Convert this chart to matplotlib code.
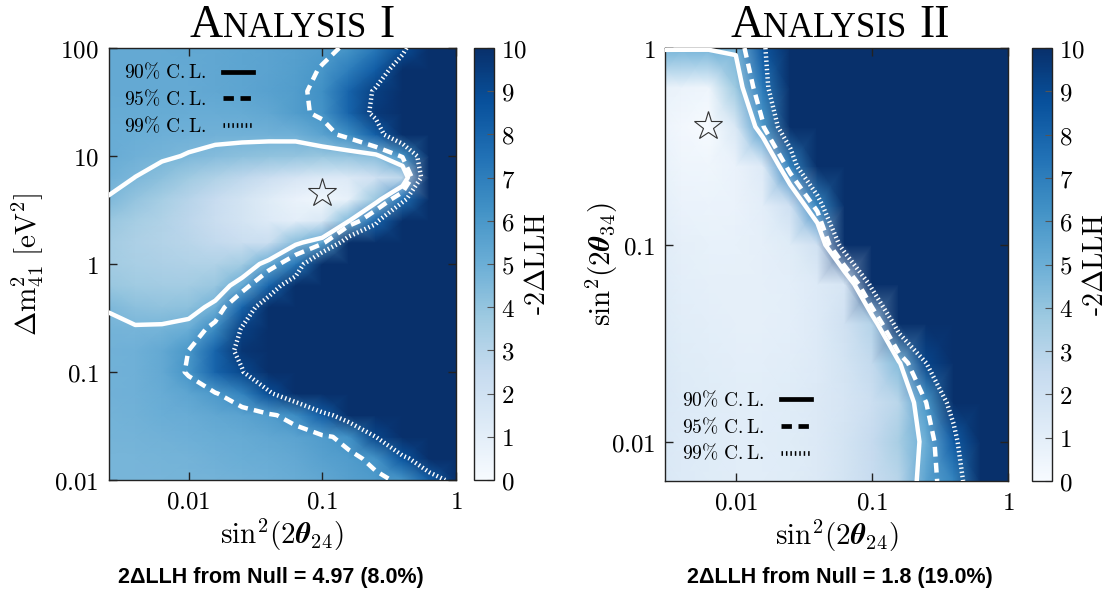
import numpy as np
import matplotlib
matplotlib.use("Agg")
import matplotlib.pyplot as plt
from matplotlib.lines import Line2D
from matplotlib.ticker import FixedLocator, FixedFormatter, NullLocator
import contourpy

plt.rcParams["mathtext.fontset"] = "cm"
plt.rcParams["axes.linewidth"] = 1.0

# ---------------------------------------------------------------- scan grid
sin2_2th24 = [0.00251, 0.00398, 0.00631, 0.01, 0.0158, 0.0251, 0.0398,
              0.0631, 0.1, 0.158, 0.251, 0.398, 0.631, 1.0]
dm2_41 = [100, 63.1, 39.8, 25.1, 15.8, 10, 6.31, 3.98, 2.51, 1.58, 1.0,
          0.631, 0.398, 0.251, 0.158, 0.1, 0.0631, 0.0398, 0.0251, 0.0158, 0.01]
sin2_2th34 = [1.0, 0.631, 0.398, 0.251, 0.158, 0.1, 0.0631, 0.0398, 0.0251,
              0.0158, 0.01, 0.00631]

# -2 Delta LLH, rows follow dm2_41 (top to bottom), columns follow sin2_2th24
llh_analysis1 = [
    [5.2, 5.2, 5.2, 5.3, 5.3, 5.4, 5.5, 5.6, 5.8, 6.1, 7.2, 8.8, 11.5, 15.0],
    [5.2, 5.2, 5.2, 5.2, 5.3, 5.4, 5.5, 5.7, 6.05, 7.0, 8.3, 10.1, 13.5, 17.0],
    [5.2, 5.2, 5.2, 5.2, 5.3, 5.4, 5.55, 5.75, 6.3, 8.0, 9.4, 12.5, 16.0, 19.0],
    [5.15, 5.15, 5.15, 5.1, 5.1, 5.15, 5.3, 5.75, 6.2, 8.0, 9.6, 12.5, 16.0, 19.0],
    [5.1, 5.0, 4.95, 4.9, 4.85, 4.85, 4.85, 4.9, 5.5, 6.4, 8.2, 11.5, 15.0, 18.0],
    [5.1, 4.9, 4.75, 4.55, 4.35, 4.2, 4.1, 4.0, 3.9, 4.0, 4.33, 6.17, 11.7, 16.0],
    [4.9, 4.6, 4.2, 3.7, 3.2, 2.7, 2.2, 1.7, 1.3, 1.4, 2.0, 2.77, 12.0, 16.0],
    [4.55, 4.0, 3.5, 3.0, 2.4, 1.8, 1.2, 0.7, 0.4, 0.8, 3.9, 7.5, 19.0, 20.0],
    [3.9, 3.5, 3.2, 2.8, 2.3, 1.8, 1.3, 1.0, 1.5, 4.55, 8.0, 20.0, 20.0, 20.0],
    [3.6, 3.3, 3.1, 2.9, 2.6, 2.3, 2.3, 4.3, 5.5, 11.0, 16.0, 20.0, 20.0, 20.0],
    [3.6, 3.4, 3.3, 3.2, 3.2, 3.6, 5.15, 7.25, 13.8, 18.0, 20.0, 20.0, 20.0, 20.0],
    [3.9, 3.7, 3.6, 3.6, 3.9, 5.19, 8.0, 10.7, 15.0, 20.0, 20.0, 20.0, 20.0, 20.0],
    [4.55, 4.2, 4.1, 4.15, 4.92, 7.98, 10.44, 14.0, 20.0, 20.0, 20.0, 20.0, 20.0, 20.0],
    [4.8, 4.7, 4.75, 5.0, 6.52, 9.35, 13.0, 20.0, 20.0, 20.0, 20.0, 20.0, 20.0, 20.0],
    [4.85, 4.9, 5.2, 6.0, 8.0, 9.73, 14.0, 20.0, 20.0, 20.0, 20.0, 20.0, 20.0, 20.0],
    [4.85, 4.9, 5.2, 6.13, 8.0, 9.1, 11.3, 16.0, 20.0, 20.0, 20.0, 20.0, 20.0, 20.0],
    [4.85, 4.9, 5.1, 5.4, 5.9, 6.8, 8.9, 11.0, 15.0, 20.0, 20.0, 20.0, 20.0, 20.0],
    [4.8, 4.85, 5.0, 5.1, 5.3, 5.5, 5.8, 6.43, 8.3, 10.6, 14.0, 20.0, 20.0, 20.0],
    [4.75, 4.8, 4.85, 4.95, 5.05, 5.15, 5.3, 5.5, 5.8, 6.28, 9.2, 13.0, 18.0, 20.0],
    [4.7, 4.72, 4.75, 4.8, 4.9, 5.0, 5.1, 5.25, 5.55, 5.8, 6.18, 8.6, 11.0, 16.0],
    [4.7, 4.7, 4.72, 4.75, 4.8, 4.85, 4.95, 5.1, 5.3, 5.6, 5.85, 6.1, 8.2, 9.9],
]

# -2 Delta LLH, rows follow sin2_2th34 (top to bottom), columns follow sin2_2th24
llh_analysis2 = [
    [4.8, 4.8, 4.8, 4.8, 8.5, 16.0, 20.0, 20.0, 20.0, 20.0, 20.0, 20.0, 20.0, 20.0],
    [0.8, 0.6, 0.5, 3.75, 7.2, 17.3, 20.0, 20.0, 20.0, 20.0, 20.0, 20.0, 20.0, 20.0],
    [0.6, 0.3, 0.0, 1.5, 5.8, 12.0, 18.0, 20.0, 20.0, 20.0, 20.0, 20.0, 20.0, 20.0],
    [0.8, 0.5, 0.4, 0.7, 1.3, 6.82, 16.4, 20.0, 20.0, 20.0, 20.0, 20.0, 20.0, 20.0],
    [1.0, 0.7, 0.6, 0.7, 1.0, 2.08, 6.68, 20.0, 20.0, 20.0, 20.0, 20.0, 20.0, 20.0],
    [1.2, 0.9, 0.8, 0.8, 0.9, 1.2, 2.0, 11.0, 20.0, 20.0, 20.0, 20.0, 20.0, 20.0],
    [1.3, 1.0, 0.9, 0.9, 0.9, 1.0, 1.3, 1.68, 10.04, 20.0, 20.0, 20.0, 20.0, 20.0],
    [1.4, 1.1, 1.0, 0.9, 0.9, 1.0, 1.3, 2.0, 3.08, 10.75, 20.0, 20.0, 20.0, 20.0],
    [1.5, 1.2, 1.1, 1.0, 1.0, 1.1, 1.3, 1.8, 2.6, 4.4, 9.21, 16.0, 20.0, 20.0],
    [1.6, 1.3, 1.2, 1.1, 1.1, 1.2, 1.4, 1.7, 2.2, 2.91, 6.0, 10.28, 18.0, 20.0],
    [1.6, 1.3, 1.2, 1.1, 1.1, 1.2, 1.4, 1.8, 2.5, 3.44, 5.0, 8.3, 14.4, 20.0],
    [1.6, 1.3, 1.2, 1.1, 1.1, 1.2, 1.4, 1.8, 2.4, 2.96, 5.5, 6.73, 13.8, 20.0],
]

best_fit1 = (0.1, 4.5)
best_fit2 = (0.0062, 0.40)

cl_levels = [4.61, 5.99, 9.21]
cl_labels = [r"$90\%\ \mathrm{C.L.}$", r"$95\%\ \mathrm{C.L.}$", r"$99\%\ \mathrm{C.L.}$"]
cl_styles = ["solid", (0, (2.2, 1.4)), (0, (0.32, 0.62))]

titles = [("A", "NALYSIS", "I"), ("A", "NALYSIS", "II")]
null_texts = ["2ΔLLH from Null = 4.97 (8.0%)", "2ΔLLH from Null = 1.8 (19.0%)"]

x_ticks = [0.01, 0.1, 1]
x_ticklabels = [r"$0.01$", r"$0.1$", r"$1$"]
y1_ticks = [0.01, 0.1, 1, 10, 100]
y1_ticklabels = [r"$0.01$", r"$0.1$", r"$1$", r"$10$", r"$100$"]
y2_ticks = [0.01, 0.1, 1]
y2_ticklabels = [r"$0.01$", r"$0.1$", r"$1$"]
cb_ticks = list(range(0, 11))
cb_ticklabels = [r"$%d$" % t for t in cb_ticks]

x_label = r"$\mathrm{sin}^2(2\boldsymbol{\theta}_{24})$"
y1_label = r"$\Delta\mathrm{m}^2_{41}\ [\mathrm{eV}^2]$"
y2_label = r"$\mathrm{sin}^2(2\boldsymbol{\theta}_{34})$"
cb_label = r"$\text{-}2\Delta\mathrm{LLH}$"

# ---------------------------------------------------------------- figure
W, H = 1112, 593
fig = plt.figure(figsize=(W / 100, H / 100), dpi=100)
fig.patch.set_facecolor("white")

ax1 = fig.add_axes([108.5 / W, 1 - 480 / H, 347.5 / W, 432 / H])
cax1 = fig.add_axes([474 / W, 1 - 480 / H, 20 / W, 432 / H])
ax2 = fig.add_axes([665 / W, 1 - 481 / H, 343 / W, 433 / H])
cax2 = fig.add_axes([1032 / W, 1 - 481 / H, 20 / W, 433 / H])

SPINE = "#222222"
TICK_FS = 18


def draw_panel(ax, cax, xs, ys, llh, xlim, ylim, yticks, yticklabels, ylabel,
               ylabelpad, star, legend_loc, legend_anchor):
    xs = np.asarray(xs, float)
    ys = np.asarray(ys, float)
    z = np.asarray(llh, float)
    # ascending y for the contour generator
    order = np.argsort(ys)
    ys, z = ys[order], z[order]
    X, Y = np.meshgrid(xs, ys)
    mesh = ax.pcolormesh(X, Y, z, cmap="Blues", vmin=0, vmax=10,
                         shading="gouraud", rasterized=True)
    ax.set_xscale("log")
    ax.set_yscale("log")
    ax.set_xlim(*xlim)
    ax.set_ylim(*ylim)

    # confidence-level contours, traced in log space
    gen = contourpy.contour_generator(x=np.log10(X), y=np.log10(Y), z=z,
                                      line_type="Separate")
    for lev, ls in zip(cl_levels, cl_styles):
        for seg in gen.lines(lev):
            ax.plot(10 ** seg[:, 0], 10 ** seg[:, 1], color="white", lw=3.2,
                    ls=ls, solid_capstyle="round", dash_capstyle="butt",
                    solid_joinstyle="round", zorder=3)

    ax.plot(*star, marker="*", ms=21, mfc="none", mec="#333333", mew=0.8,
            zorder=4)

    handles = [Line2D([], [], color="black", lw=3.4, ls=s,
                      dash_capstyle="butt") for s in cl_styles]
    ax.legend(handles, cl_labels, loc=legend_loc, bbox_to_anchor=legend_anchor,
              frameon=False, markerfirst=False, handlelength=1.55,
              handletextpad=0.85, labelspacing=0.32, borderaxespad=0,
              borderpad=0, fontsize=14)

    ax.xaxis.set_major_locator(FixedLocator(x_ticks))
    ax.xaxis.set_major_formatter(FixedFormatter(x_ticklabels))
    ax.yaxis.set_major_locator(FixedLocator(yticks))
    ax.yaxis.set_major_formatter(FixedFormatter(yticklabels))
    ax.xaxis.set_minor_locator(NullLocator())
    ax.yaxis.set_minor_locator(NullLocator())
    ax.tick_params(which="major", direction="in", top=True, right=True,
                   length=6, width=1, color=SPINE, labelsize=TICK_FS, pad=7)
    for sp in ax.spines.values():
        sp.set_color(SPINE)

    ax.set_xlabel(x_label, fontsize=21, labelpad=2)
    ax.set_ylabel(ylabel, fontsize=21, labelpad=ylabelpad)

    cb = fig.colorbar(mesh, cax=cax)
    cb.set_ticks(cb_ticks)
    cb.set_ticklabels(cb_ticklabels)
    cb.outline.set_edgecolor(SPINE)
    cb.outline.set_linewidth(1.0)
    cax.tick_params(direction="in", length=5, width=0.8, color="#555555",
                    labelsize=TICK_FS, pad=5)
    cb.set_label(cb_label, fontsize=20, labelpad=-3)
    return mesh


draw_panel(ax1, cax1, sin2_2th24, dm2_41, llh_analysis1, (10 ** -2.6, 1),
           (0.01, 100), y1_ticks, y1_ticklabels, y1_label, 6, best_fit1,
           "upper left", (0.045, 0.968))
draw_panel(ax2, cax2, sin2_2th24, sin2_2th34, llh_analysis2, (10 ** -2.52, 1),
           (10 ** -2.2, 1), y2_ticks, y2_ticklabels, y2_label, -7, best_fit2,
           "lower left", (0.05, 0.04))


# ---------------------------------------------------------------- titles
def small_caps_title(parts, cx_px, base_px, big=33, small=25):
    renderer = fig.canvas.get_renderer()
    sizes = [big, small, big]
    texts, widths = [], []
    for s, fs in zip(parts, sizes):
        t = fig.text(0, 1 - base_px / H, s, fontsize=fs,
                     family="Liberation Serif", ha="left", va="baseline")
        texts.append(t)
        widths.append(t.get_window_extent(renderer).width)
    gap = 0.28 * big * 100 / 72
    total = widths[0] + widths[1] + gap + widths[2]
    x = cx_px - total / 2
    offsets = [0, widths[0], widths[0] + widths[1] + gap]
    for t, off in zip(texts, offsets):
        t.set_x((x + off) / W)


small_caps_title(titles[0], 292, 37)
small_caps_title(titles[1], 840, 37)

# ---------------------------------------------------------------- footers
fig.text(271 / W, 1 - 577 / H, null_texts[0], ha="center", va="center",
         fontsize=15.5, fontweight="bold", family="Liberation Sans")
fig.text(840 / W, 1 - 577 / H, null_texts[1], ha="center", va="center",
         fontsize=15.5, fontweight="bold", family="Liberation Sans")

# panel marker at the left margin
fig.text(-5 / W, 1 - 140 / H, ")", ha="center", va="center", fontsize=24,
         family="Liberation Serif")

fig.savefig("out.png", dpi=100, facecolor="white")
